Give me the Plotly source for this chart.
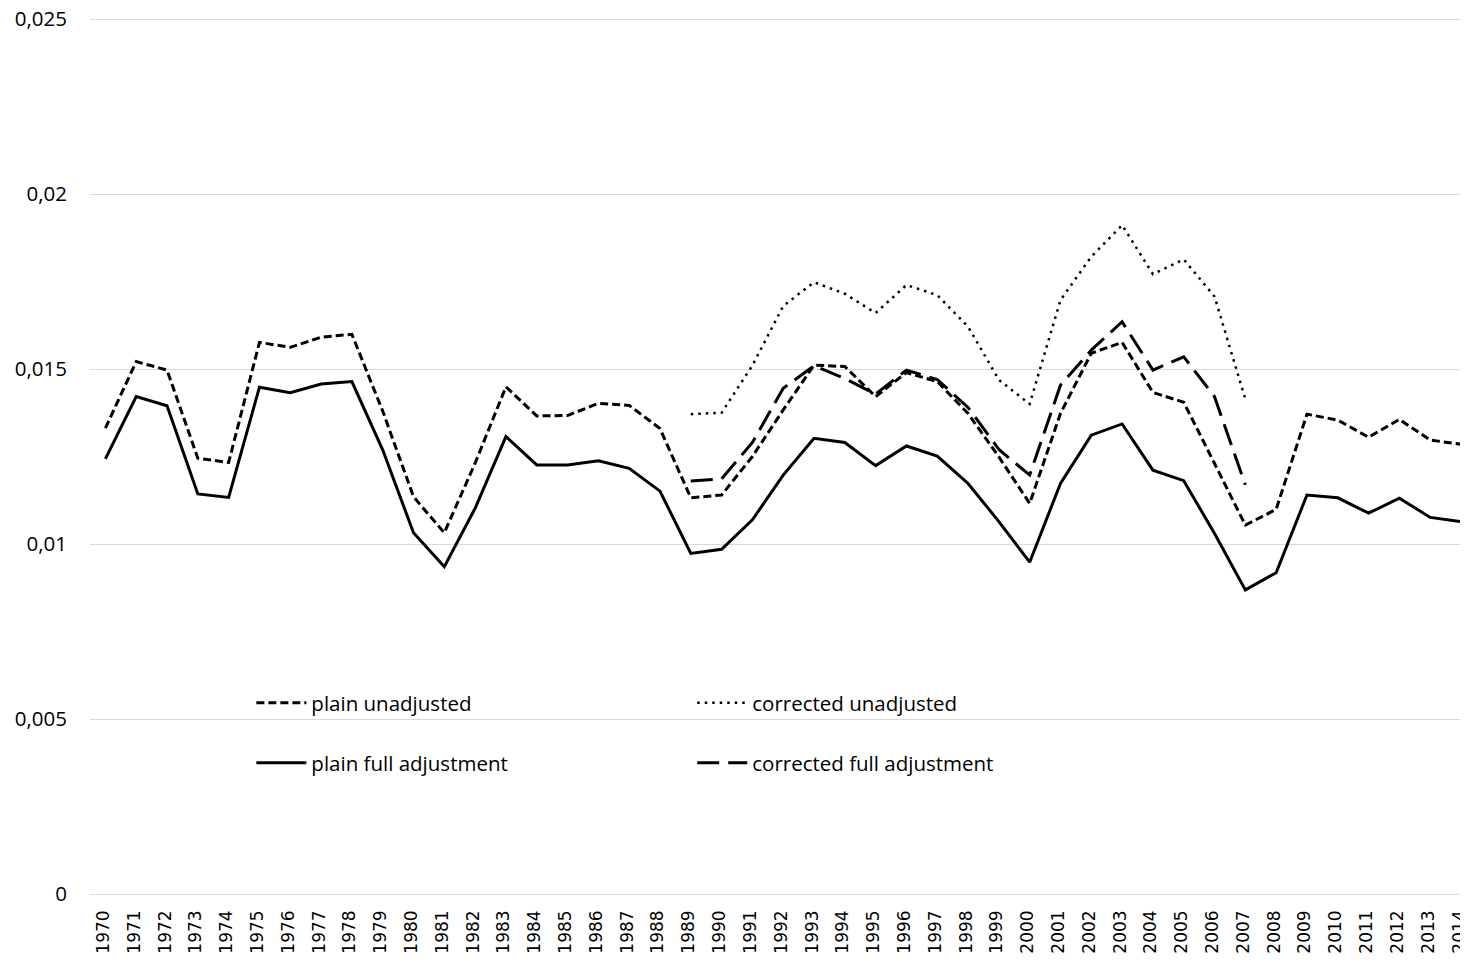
import plotly.graph_objects as go

years = list(range(1970, 2015))

plain_unadjusted = [
    0.01331, 0.01521, 0.01497, 0.01245, 0.01233, 0.01576, 0.01562, 0.01591, 0.01599, 0.01380,
    0.01135, 0.01032, 0.01231, 0.01449, 0.01366, 0.01367, 0.01402, 0.01396, 0.01330, 0.01132,
    0.01140, 0.01250, 0.01383, 0.01511, 0.01507, 0.01421, 0.01490, 0.01464, 0.01373, 0.01249,
    0.01116, 0.01373, 0.01545, 0.01576, 0.01433, 0.01405, 0.01230, 0.01054, 0.01099, 0.01371,
    0.01354, 0.01305, 0.01356, 0.01297, 0.01285]

plain_full = [
    0.01243, 0.01421, 0.01395, 0.01143, 0.01133, 0.01448, 0.01432, 0.01457, 0.01464, 0.01269,
    0.01032, 0.00935, 0.01102, 0.01307, 0.01226, 0.01226, 0.01238, 0.01216, 0.01151, 0.00973,
    0.00985, 0.01069, 0.01197, 0.01302, 0.01290, 0.01224, 0.01280, 0.01251, 0.01173, 0.01064,
    0.00948, 0.01173, 0.01311, 0.01343, 0.01211, 0.01181, 0.01030, 0.00869, 0.00918, 0.01140,
    0.01132, 0.01088, 0.01131, 0.01076, 0.01064]

corrected_years = list(range(1989, 2008))
corrected_unadjusted = [
    0.01371, 0.01375, 0.01510, 0.01680, 0.01748, 0.01715, 0.01660, 0.01740, 0.01711, 0.01621,
    0.01469, 0.01400, 0.01697, 0.01821, 0.01911, 0.01771, 0.01813, 0.01707, 0.01414]
corrected_full = [
    0.01180, 0.01186, 0.01290, 0.01445, 0.01509, 0.01473, 0.01428, 0.01497, 0.01470, 0.01390,
    0.01270, 0.01197, 0.01454, 0.01554, 0.01635, 0.01497, 0.01535, 0.01421, 0.01169]

y_tickvals = [0, 0.005, 0.01, 0.015, 0.02, 0.025]
y_ticktext = ["0", "0,005", "0,01", "0,015", "0,02", "0,025"]

TEXT_FONT = "Open Sans"
XTICK_FONT = "DejaVu Sans"

fig = go.Figure()
fig.add_trace(go.Scatter(x=years, y=plain_unadjusted, mode="lines", name="plain unadjusted",
                         line=dict(color="black", width=3, dash="8px,4px"), legend="legend"))
fig.add_trace(go.Scatter(x=corrected_years, y=corrected_unadjusted, mode="lines", name="corrected unadjusted",
                         line=dict(color="black", width=2.5, dash="2.5px,5px"), legend="legend2"))
fig.add_trace(go.Scatter(x=years, y=plain_full, mode="lines", name="plain full adjustment",
                         line=dict(color="black", width=3), legend="legend3"))
fig.add_trace(go.Scatter(x=corrected_years, y=corrected_full, mode="lines", name="corrected full adjustment",
                         line=dict(color="black", width=3, dash="22px,9px"), legend="legend4"))

# page has an 8px body margin; figure is sized so it fills the 1468x964 window
W, H = 1460, 956
L, R, T, B = 81.6, 0, 4, 63
pw = W - L - R
ph = H - T - B

def px_x(x):
    return (x - L) / pw

def px_y(y):
    return (H - B - y) / ph

leg_common = dict(orientation="h", font=dict(family=TEXT_FONT, size=20.5, color="black"),
                  bgcolor="rgba(0,0,0,0)", xanchor="left", yanchor="middle", itemwidth=50)

fig.update_layout(
    width=W, height=H,
    margin=dict(l=L, r=R, t=T, b=B, autoexpand=False),
    paper_bgcolor="white", plot_bgcolor="white",
    font=dict(family=TEXT_FONT, size=20.5, color="black"),
    showlegend=True,
    legend=dict(x=px_x(243), y=px_y(695), **leg_common),
    legend2=dict(x=px_x(684), y=px_y(695), **leg_common),
    legend3=dict(x=px_x(243), y=px_y(755), **leg_common),
    legend4=dict(x=px_x(684), y=px_y(755), **leg_common),
    xaxis=dict(
        tickmode="array", tickvals=years, ticktext=[str(y) for y in years],
        tickangle=-90, range=[1969.5, 2014.227], showgrid=False, zeroline=False,
        showline=False, ticks="", tickfont=dict(family=XTICK_FONT, size=17, color="black"),
        ticklabelstandoff=5, ticklabelshift=-2, ticklabeloverflow="allow", automargin=False,
    ),
    yaxis=dict(
        range=[-0.0002, 0.0252], tickmode="array", tickvals=y_tickvals, ticktext=y_ticktext,
        showgrid=True, gridcolor="#d9d9d9", gridwidth=1.3, zeroline=False, showline=False,
        ticks="", tickfont=dict(family=TEXT_FONT, size=20.5, color="black"),
        ticklabelstandoff=22, ticklabeloverflow="allow", automargin=False,
    ),
)

fig.write_html("out.html")
